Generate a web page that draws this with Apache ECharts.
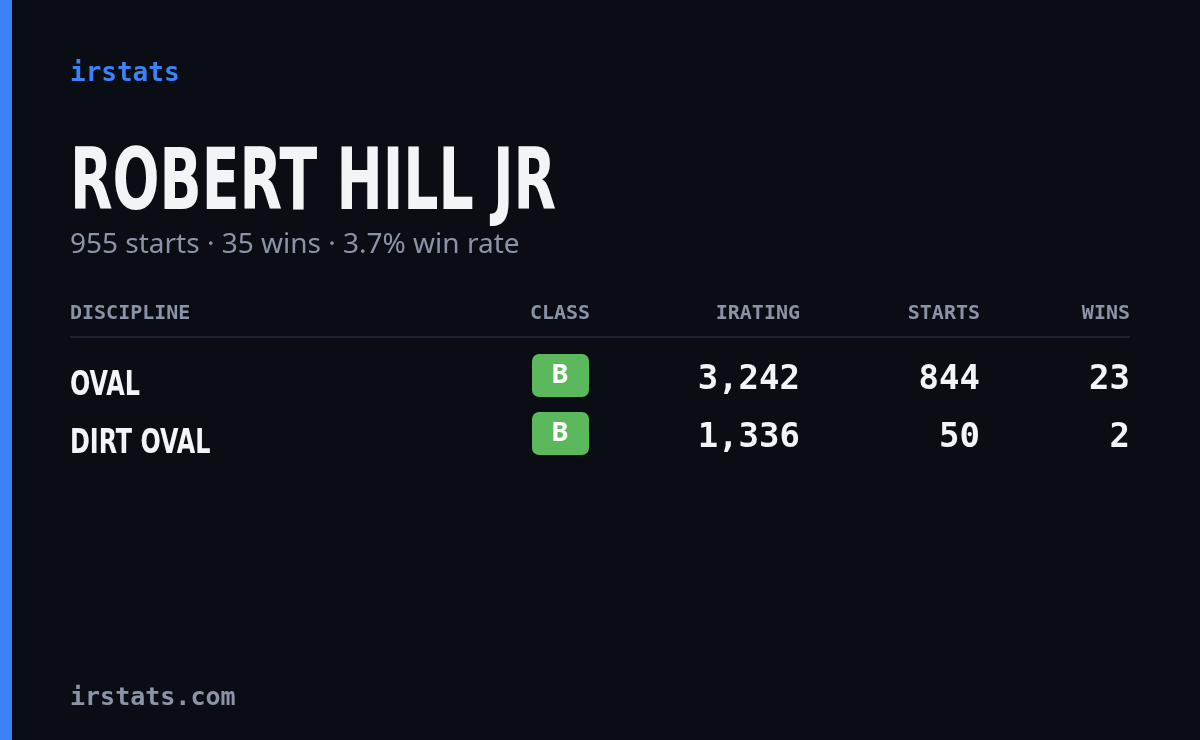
<!DOCTYPE html>
<html>
<head>
<meta charset="utf-8">
<script src="https://cdn.jsdelivr.net/npm/echarts@6/dist/echarts.min.js"></script>
<style>
  html, body { margin: 0; padding: 0; background: #0a0d14; }
  #card { width: 1200px; height: 740px; }
</style>
</head>
<body>
<div id="card"></div>
<script>
// driver data
var driverName = 'ROBERT HILL JR';
var summary = '955 starts · 35 wins · 3.7% win rate';
var headers = ['DISCIPLINE', 'CLASS', 'IRATING', 'STARTS', 'WINS'];
var disciplines = ['OVAL', 'DIRT OVAL'];
var classes = ['B', 'B'];
var iratings = [3242, 1336];
var starts = [844, 50];
var wins = [23, 2];

var mono = '"DejaVu Sans Mono", monospace';
var cond = '"DejaVu Sans Condensed", "DejaVu Sans", sans-serif';
var gray = '#8b93a7';

// column x positions, align
var colX = [70, 560, 800, 980, 1130];
var colAlign = ['left', 'center', 'right', 'right', 'right'];

function fmt(n) { return n.toLocaleString('en-US'); }

var elements = [
    { type: 'rect', shape: { x: 0, y: 0, width: 12, height: 740 }, style: { fill: '#3b82f6' } },
    { type: 'text', x: 70, y: 74, style: { text: 'irstats', fill: '#3b82f6', font: 'bold 26px ' + mono, textVerticalAlign: 'middle' } },
    { type: 'text', x: 70, y: 230, scaleX: 0.715, style: { text: driverName, fill: '#f3f4f8', font: 'bold 86px ' + cond, textVerticalAlign: 'bottom', textBaseline: 'alphabetic' } },
    { type: 'text', x: 70, y: 245, style: { text: summary, fill: gray, font: '28px "Noto Sans", sans-serif', textVerticalAlign: 'middle' } },
    { type: 'line', shape: { x1: 70, y1: 337, x2: 1130, y2: 337 }, style: { stroke: '#1c2130', lineWidth: 2 } },
    { type: 'text', x: 70, y: 698, style: { text: 'irstats.com', fill: gray, font: 'bold 25px ' + mono, textVerticalAlign: 'middle' } }
];

// header row
headers.forEach(function (h, i) {
    elements.push({ type: 'text', x: colX[i], y: 314, style: { text: h, fill: gray, font: 'bold 20px ' + mono, textAlign: colAlign[i], textVerticalAlign: 'middle' } });
});

// data rows
disciplines.forEach(function (d, r) {
    var y = 386 + r * 58;
    elements.push({ type: 'text', x: 70, y: y, scaleX: 0.78, style: { text: d, fill: '#f3f4f8', font: 'bold 34px ' + cond, textVerticalAlign: 'middle' } });
    elements.push({ type: 'rect', shape: { x: 532, y: y - 32, width: 57, height: 43, r: 7 }, style: { fill: '#5cb85c' } });
    elements.push({ type: 'text', x: 560, y: y - 10, style: { text: classes[r], fill: '#ffffff', font: 'bold 26px "Noto Sans", sans-serif', textAlign: 'center', textVerticalAlign: 'middle' } });
    [fmt(iratings[r]), fmt(starts[r]), fmt(wins[r])].forEach(function (v, k) {
        elements.push({ type: 'text', x: colX[k + 2], y: y - 6, style: { text: v, fill: '#f3f4f8', font: 'bold 34px ' + mono, textAlign: 'right', textVerticalAlign: 'middle' } });
    });
});

var chart = echarts.init(document.getElementById('card'));
chart.setOption({
    backgroundColor: '#0a0d14',
    graphic: { elements: elements }
});
</script>
</body>
</html>
